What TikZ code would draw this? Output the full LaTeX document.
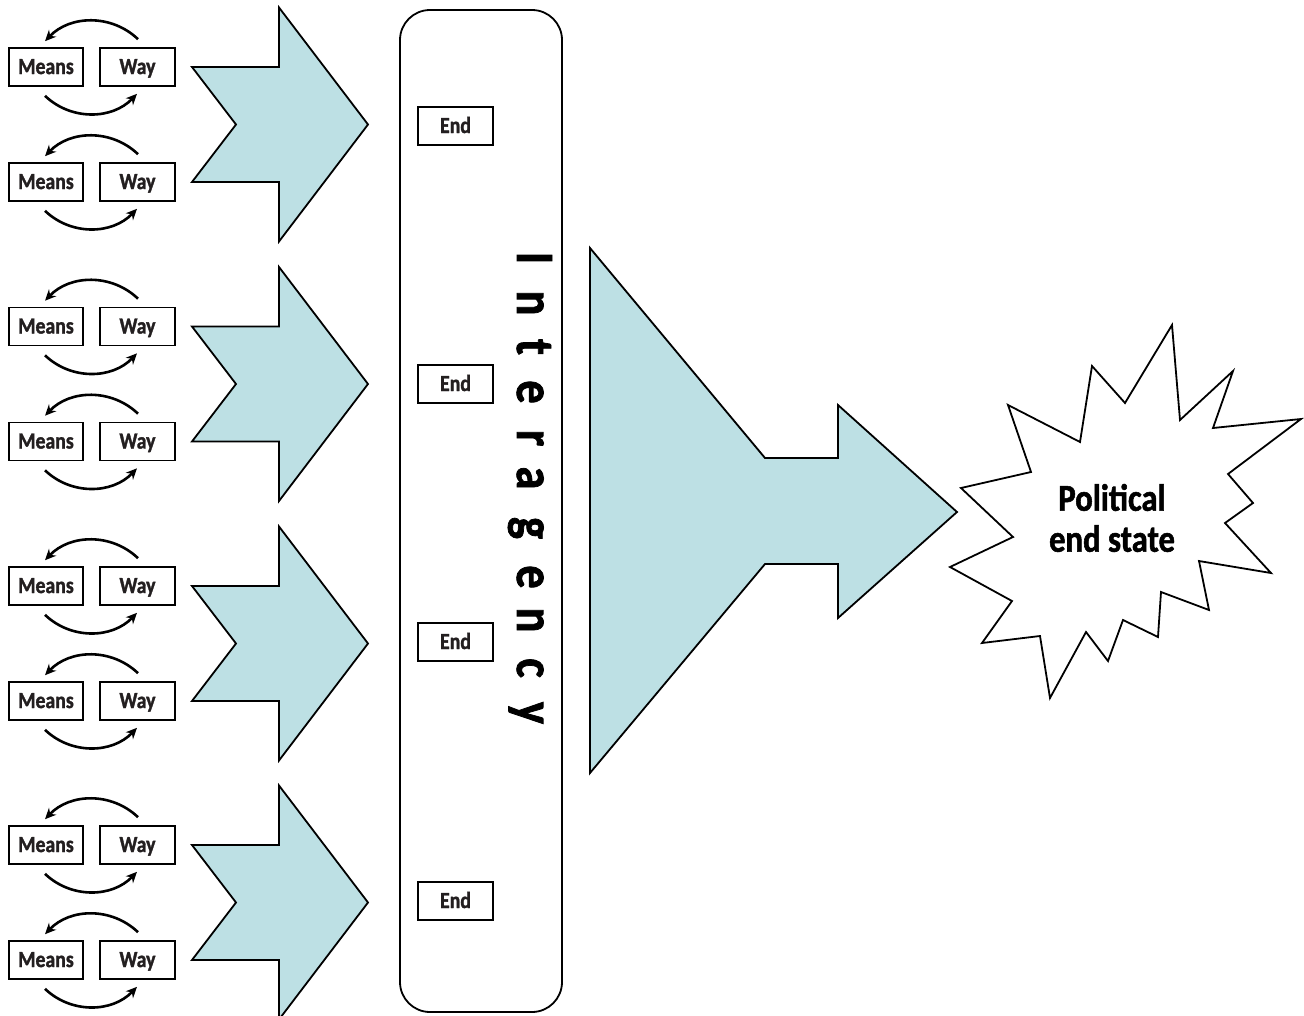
\documentclass[tikz,border=0pt]{standalone}
\usepackage{fontspec}
\setmainfont[FakeStretch=0.86, BoldFeatures={FakeBold=1.4}]{Carlito}
\usetikzlibrary{arrows.meta}
\definecolor{chevfill}{RGB}{189,224,228}
\definecolor{inktext}{RGB}{35,31,32}

\begin{document}
\begin{tikzpicture}[x=1pt,y=-1pt,
    mwbox/.style={draw, line width=1.6pt, minimum height=38pt, inner sep=0pt,
      text height=17pt, text depth=3pt,
      text=inktext, font=\bfseries\fontsize{23}{25}\selectfont},
    cycarrow/.style={line width=2.6pt, -{Stealth[length=11pt,width=10pt]}, bend right=45},
    chev/.style={draw, line width=1.8pt, fill=chevfill, line join=miter}]
\useasboundingbox (0,0) rectangle (1304,1015);

% interagency frame
\node[draw, line width=1.8pt, rounded corners=30pt, minimum width=162pt,
  minimum height=1002pt] (ia) at (481,511) {};

% four groups: two means/way pairs, a chevron and an end each
\foreach \g/\c/\e in {1/124.5/126, 2/384/384, 3/643.5/642, 4/902.5/901} {
  \foreach \p/\s in {a/-1, b/1} {
    \node[mwbox, minimum width=74pt] (m\g\p) at (46,{\c+\s*57.5}) {Means};
    \node[mwbox, minimum width=75pt] (w\g\p) at (137.5,{\c+\s*57.5}) {Way};
    \draw[cycarrow] ([xshift=0.5pt,yshift=8pt]w\g\p.north) to ([xshift=-1pt,yshift=6pt]m\g\p.north);
    \draw[cycarrow] ([xshift=-1pt,yshift=-9pt]m\g\p.south) to ([xshift=-0.5pt,yshift=-7pt]w\g\p.south);
  }
  \draw[chev] (192,\c-57.5) -- (279,\c-57.5) -- (279,\c-117) -- (368,\c)
    -- (279,\c+117) -- (279,\c+57.5) -- (192,\c+57.5) -- (236,\c) -- cycle;
  \node[mwbox, minimum width=75pt] (e\g) at (455.5,\e) {End};
}

% vertical label, one letter at a time
\foreach \l/\y [count=\i] in {I/258, n/303, t/347, e/392, r/438, a/478,
    g/528, e/577, n/620, c/668, y/713}
  \node[rotate=-90, anchor=base, inner sep=0pt, font=\bfseries\fontsize{54}{54}\selectfont]
    (lt\i) at (517,\y) {\l};

% big arrow
\draw[chev] (590,248) -- (765,458) -- (838,458) -- (838,405) -- (957,512)
  -- (838,618) -- (838,564) -- (765,564) -- (590,773) -- cycle;

% starburst
\draw[line width=1.8pt, fill=white, line join=miter]
  (1172,325) -- (1180,420) -- (1233,371) -- (1213,428) -- (1301,419)
  -- (1228,474) -- (1253,503) -- (1225,523) -- (1271,573) -- (1199,561)
  -- (1209,610) -- (1161,592) -- (1158,637) -- (1123,620) -- (1108,661)
  -- (1086,632) -- (1050,698) -- (1040,636) -- (982,643) -- (1012,601)
  -- (950,567) -- (1013,537) -- (961,488) -- (1031,472) -- (1008,405)
  -- (1080,442) -- (1092,366) -- (1125,403) -- cycle;
\node[align=center, text=black, font=\bfseries\fontsize{38}{41}\selectfont]
  (pes) at (1112,518) {Political\\end state};
\end{tikzpicture}
\end{document}
